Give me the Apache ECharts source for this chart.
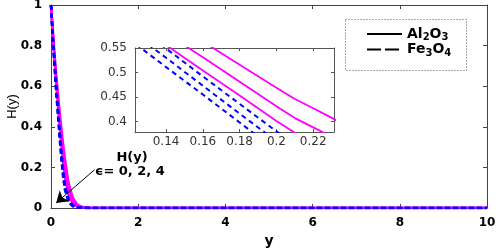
<!DOCTYPE html>
<html><head><meta charset="utf-8">
<script src="https://cdn.jsdelivr.net/npm/echarts@6/dist/echarts.min.js"></script>
<style>html,body{margin:0;padding:0;background:#fff}#c{width:498px;height:249px}</style>
</head><body><div id="c"></div>
<script>
// sample positions along y
const ySamples = [0, 0.04, 0.08, 0.12, 0.14, 0.16, 0.18, 0.2, 0.21, 0.22, 0.24, 0.28, 0.32, 0.4, 0.5, 0.6, 0.7, 0.8, 0.9, 1, 2, 4, 6, 8, 10];
// Al2O3 (solid magenta), eps = 0, 2, 4
const alE0 = [1, 0.875, 0.761, 0.657, 0.61, 0.563, 0.516, 0.469, 0.446, 0.427, 0.388, 0.31, 0.24, 0.125, 0.05, 0.018, 0.006, 0.002, 0.0005, 0, 0, 0, 0, 0, 0];
const alE2 = [1, 0.865, 0.742, 0.63, 0.58, 0.531, 0.481, 0.431, 0.407, 0.388, 0.35, 0.275, 0.205, 0.1, 0.038, 0.013, 0.004, 0.001, 0.0003, 0, 0, 0, 0, 0, 0];
const alE4 = [1, 0.86, 0.73, 0.61, 0.556, 0.504, 0.453, 0.401, 0.377, 0.353, 0.307, 0.22, 0.15, 0.065, 0.022, 0.007, 0.002, 0.0005, 0, 0, 0, 0, 0, 0, 0];
// Fe3O4 (dashed blue), eps = 0, 2, 4
const feE0 = [1, 0.851, 0.728, 0.605, 0.549, 0.492, 0.436, 0.38, 0.352, 0.325, 0.272, 0.18, 0.112, 0.042, 0.012, 0.004, 0.001, 0, 0, 0, 0, 0, 0, 0, 0];
const feE2 = [1, 0.843, 0.712, 0.586, 0.53, 0.473, 0.416, 0.36, 0.332, 0.305, 0.253, 0.165, 0.1, 0.035, 0.01, 0.003, 0.001, 0, 0, 0, 0, 0, 0, 0, 0];
const feE4 = [1, 0.835, 0.697, 0.568, 0.511, 0.455, 0.398, 0.341, 0.314, 0.287, 0.236, 0.15, 0.09, 0.03, 0.008, 0.002, 0.0005, 0, 0, 0, 0, 0, 0, 0, 0];
// inset tick values
const insetXTicks = [0.14, 0.16, 0.18, 0.2, 0.22];
const insetYTicks = [0.4, 0.45, 0.5, 0.55];
const legendNames = ['Al2O3', 'Fe3O4'];

const pairs = v => ySamples.map((x, i) => [x, v[i]]);
const FONT = 'DejaVu Sans';
const AX = '#444';

function mainLine(data, solid, xi, yi, inset) {
  return {
    type: 'line', xAxisIndex: xi, yAxisIndex: yi, data: pairs(data),
    symbol: 'none', silent: true, animation: false, z: solid ? 2 : 3,
    lineStyle: solid
      ? { color: '#ff00ff', width: inset ? 1.8 : 2.5, type: 'solid' }
      : { color: '#0000ff', width: inset ? 2 : 2.5, type: inset ? [5, 4] : [5, 3] }
  };
}

const series = [];
[alE0, alE2, alE4].forEach(d => series.push(mainLine(d, true, 0, 0, false)));
[feE0, feE2, feE4].forEach(d => series.push(mainLine(d, false, 0, 0, false)));
[alE0, alE2, alE4].forEach(d => series.push(mainLine(d, true, 2, 2, true)));
[feE0, feE2, feE4].forEach(d => series.push(mainLine(d, false, 2, 2, true)));
// arrow annotation
series[0].markLine = {
  silent: true, animation: false, symbol: ['none', 'arrow'], symbolSize: 11,
  label: { show: false },
  lineStyle: { color: '#000', width: 1, type: 'solid' },
  emphasis: { disabled: true },
  data: [[{ coord: [0.997, 0.188] }, { coord: [0.119, 0.025] }]]
};
// legend dummies
series.push({ type: 'line', name: legendNames[0], xAxisIndex: 0, yAxisIndex: 0, data: [], symbol: 'none',
  lineStyle: { color: '#000', width: 1.2, type: 'solid' }, itemStyle: { color: '#000' } });
series.push({ type: 'line', name: legendNames[1], xAxisIndex: 0, yAxisIndex: 0, data: [], symbol: 'none',
  lineStyle: { color: '#000', width: 1.2, type: [14, 4] }, itemStyle: { color: '#000' } });

const mainTickLabel = { color: '#000', fontWeight: 'bold', fontSize: 12, fontFamily: FONT };
const insetTickLabel = { color: '#333', fontSize: 12, fontFamily: FONT };

const option = {
  animation: false,
  backgroundColor: '#fff',
  grid: [
    { left: 51, right: 11, top: 5, bottom: 41, outerBoundsMode: 'none', containLabel: false },
    { left: 135, top: 48, width: 199, height: 84, outerBoundsMode: 'none', containLabel: false, show: false }
  ],
  xAxis: [
    { gridIndex: 0, type: 'value', min: 0, max: 10, interval: 2, position: 'bottom',
      axisLine: { onZero: false, lineStyle: { color: AX } },
      axisTick: { inside: true, length: 4, lineStyle: { color: AX } },
      axisLabel: Object.assign({ margin: 9 }, mainTickLabel), splitLine: { show: false },
      name: 'y', nameLocation: 'middle', nameGap: 26, nameMoveOverlap: false,
      nameTextStyle: { color: '#000', fontWeight: 'bold', fontSize: 14, fontFamily: FONT } },
    { gridIndex: 0, type: 'value', min: 0, max: 10, interval: 2, position: 'top',
      axisLine: { onZero: false, lineStyle: { color: AX } },
      axisTick: { inside: true, length: 4, lineStyle: { color: AX } },
      axisLabel: { show: false }, splitLine: { show: false } },
    { gridIndex: 1, type: 'value', min: 0.1231, max: 0.2313, position: 'bottom',
      axisLine: { onZero: false, lineStyle: { color: '#555' } },
      axisTick: { inside: true, length: 3, customValues: insetXTicks, lineStyle: { color: '#555' } },
      axisLabel: Object.assign({ margin: 4, customValues: insetXTicks }, insetTickLabel), splitLine: { show: false } },
    { gridIndex: 1, type: 'value', min: 0.1231, max: 0.2313, position: 'top',
      axisLine: { onZero: false, lineStyle: { color: '#555' } },
      axisTick: { inside: true, length: 3, customValues: insetXTicks, lineStyle: { color: '#555' } },
      axisLabel: { show: false }, splitLine: { show: false } }
  ],
  yAxis: [
    { gridIndex: 0, type: 'value', min: 0, max: 1, interval: 0.2, position: 'left',
      axisLine: { show: true, onZero: false, lineStyle: { color: AX } },
      axisTick: { show: true, inside: true, length: 4, lineStyle: { color: AX } },
      axisLabel: Object.assign({ margin: 9 }, mainTickLabel), splitLine: { show: false },
      name: 'H(y)', nameLocation: 'middle', nameGap: 32, nameMoveOverlap: false,
      nameTextStyle: { color: '#000', fontSize: 13, fontFamily: 'Liberation Sans' } },
    { gridIndex: 0, type: 'value', min: 0, max: 1, interval: 0.2, position: 'right',
      axisLine: { show: true, onZero: false, lineStyle: { color: AX } },
      axisTick: { show: true, inside: true, length: 4, lineStyle: { color: AX } },
      axisLabel: { show: false }, splitLine: { show: false } },
    { gridIndex: 1, type: 'value', min: 0.3786, max: 0.55, position: 'left',
      axisLine: { show: true, onZero: false, lineStyle: { color: '#555' } },
      axisTick: { show: true, inside: true, length: 3, customValues: insetYTicks, lineStyle: { color: '#555' } },
      axisLabel: Object.assign({ margin: 8, customValues: insetYTicks }, insetTickLabel), splitLine: { show: false } },
    { gridIndex: 1, type: 'value', min: 0.3786, max: 0.55, position: 'right',
      axisLine: { show: true, onZero: false, lineStyle: { color: '#555' } },
      axisTick: { show: true, inside: true, length: 3, customValues: insetYTicks, lineStyle: { color: '#555' } },
      axisLabel: { show: false }, splitLine: { show: false } }
  ],
  legend: {
    data: legendNames, orient: 'vertical', left: 366, top: 27, padding: 0, itemWidth: 35, itemHeight: 10, itemGap: 0,
    selectedMode: false,
    itemStyle: { color: 'rgba(0,0,0,0)', borderColor: 'rgba(0,0,0,0)', borderWidth: 0, opacity: 0 },
    formatter: n => n === 'Al2O3' ? 'Al{s|2}O{s|3}' : 'Fe{s|3}O{s|4}',
    textStyle: { color: '#000', fontWeight: 'bold', fontSize: 14, fontFamily: FONT,
      rich: { s: { fontSize: 10, fontWeight: 'bold', fontFamily: FONT, color: '#000', padding: [7, 0, 0, 0] } } }
  },
  graphic: [
    { type: 'rect', shape: { x: 345.5, y: 19.5, width: 121, height: 51 }, z: 1,
      style: { fill: '#fff', stroke: '#555', lineWidth: 1, lineDash: [1, 2] } },
    { type: 'text', x: 132, y: 158, z: 10,
      style: { text: 'H(y)', fill: '#000', font: 'bold 13px "DejaVu Sans"', align: 'center', verticalAlign: 'middle' } },
    { type: 'text', x: 95, y: 172, z: 10,
      style: { text: 'ϵ= 0, 2, 4', fill: '#000', font: 'bold 13px "DejaVu Sans"', align: 'left', verticalAlign: 'middle' } }
  ],
  series: series
};
const chart = echarts.init(document.getElementById('c'), null, { renderer: 'canvas' });
chart.setOption(option);
</script></body></html>
